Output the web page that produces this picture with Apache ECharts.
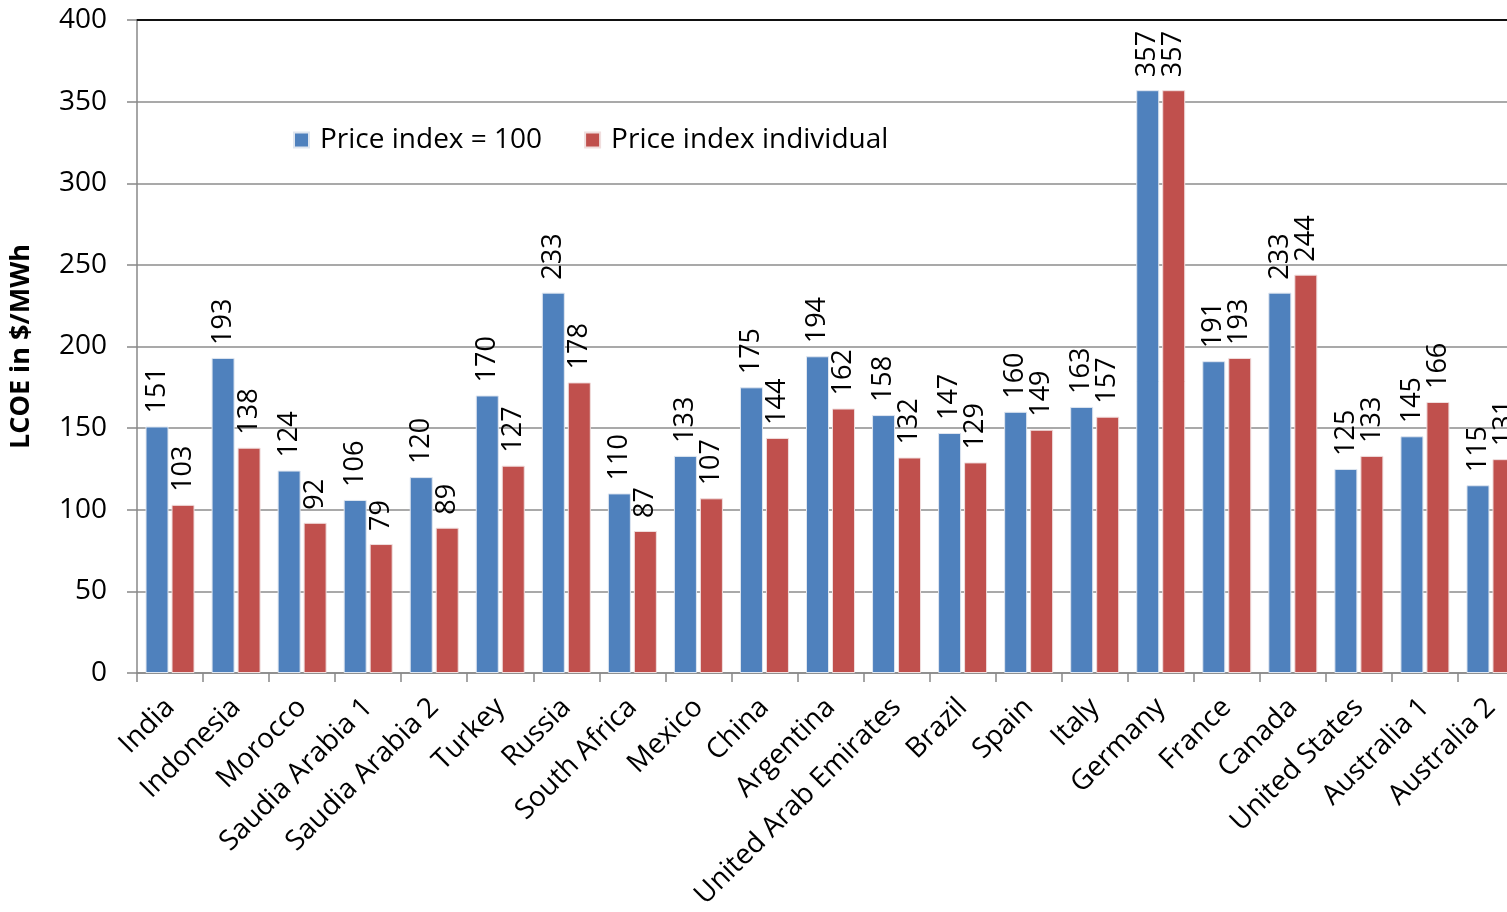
<!DOCTYPE html>
<html>
<head>
<meta charset="utf-8">
<script src="https://cdn.jsdelivr.net/npm/echarts@6/dist/echarts.min.js"></script>
<style>
  html, body { margin: 0; padding: 0; background: #fff; overflow: hidden; width: 1507px; height: 912px; }
  #chart { width: 1524px; height: 912px; }
</style>
</head>
<body>
<div id="chart"></div>
<script>
// LCOE per country, two price-index assumptions
const categories = ['India', 'Indonesia', 'Morocco', 'Saudia Arabia 1', 'Saudia Arabia 2', 'Turkey', 'Russia',
  'South Africa', 'Mexico', 'China', 'Argentina', 'United Arab Emirates', 'Brazil', 'Spain', 'Italy',
  'Germany', 'France', 'Canada', 'United States', 'Australia 1', 'Australia 2'];
const priceIndex100 = [151, 193, 124, 106, 120, 170, 233, 110, 133, 175, 194, 158, 147, 160, 163, 357, 191, 233, 125, 145, 115];
const priceIndexIndividual = [103, 138, 92, 79, 89, 127, 178, 87, 107, 144, 162, 132, 129, 149, 157, 357, 193, 244, 133, 166, 131];
const yTicks = { min: 0, max: 400, interval: 50 };

const FONT = 'Open Sans';

const valueLabel = {
  show: true,
  position: 'top',
  distance: 13,
  rotate: 90,
  align: 'left',
  verticalAlign: 'middle',
  color: '#000',
  fontFamily: FONT,
  fontSize: 27
};

const chart = echarts.init(document.getElementById('chart'));
chart.setOption({
  animation: false,
  backgroundColor: '#fff',
  grid: { left: 134, top: 20, bottom: 239, right: 0, containLabel: false },
  legend: {
    left: 288, top: 121,
    itemWidth: 15, itemHeight: 15, itemGap: 42,
    icon: 'rect',
    textStyle: { fontFamily: FONT, fontSize: 28, color: '#000', padding: [0, 0, 0, 6] },
    data: ['Price index = 100', 'Price index individual']
  },
  xAxis: [{
    type: 'category',
    data: categories,
    axisLine: { lineStyle: { color: '#888', width: 1.5 } },
    axisTick: { show: true, length: 9, lineStyle: { color: '#888', width: 1.5 } },
    axisLabel: {
      rotate: 45, interval: 0, margin: 30,
      color: '#000', fontFamily: FONT, fontSize: 28
    }
  }, {
    type: 'category',
    position: 'top',
    data: categories,
    axisLine: { show: true, lineStyle: { color: '#111', width: 2 } },
    axisTick: { show: false },
    axisLabel: { show: false }
  }],
  yAxis: {
    type: 'value',
    min: yTicks.min, max: yTicks.max, interval: yTicks.interval,
    name: 'LCOE in $/MWh',
    nameLocation: 'middle',
    nameRotate: 90,
    nameGap: 102,
    nameTextStyle: { fontFamily: FONT, fontWeight: 'bold', fontSize: 27, color: '#000' },
    axisLine: { show: true, lineStyle: { color: '#888', width: 1.5 } },
    axisTick: { show: true, inside: false, length: 10, lineStyle: { color: '#888', width: 1.5 } },
    axisLabel: { margin: 30, color: '#000', fontFamily: FONT, fontSize: 28 },
    splitLine: { show: true, lineStyle: { color: '#8c8c8c', width: 1.5 } }
  },
  series: [{
    name: 'Price index = 100',
    type: 'bar',
    data: priceIndex100,
    barWidth: 23,
    barGap: '13%',
    itemStyle: { color: '#4F81BD', borderColor: '#dfe6f0', borderWidth: 1 },
    label: valueLabel
  }, {
    name: 'Price index individual',
    type: 'bar',
    data: priceIndexIndividual,
    barWidth: 23,
    itemStyle: { color: '#C0504D', borderColor: '#f0dede', borderWidth: 1 },
    label: valueLabel
  }]
});
</script>
</body>
</html>
